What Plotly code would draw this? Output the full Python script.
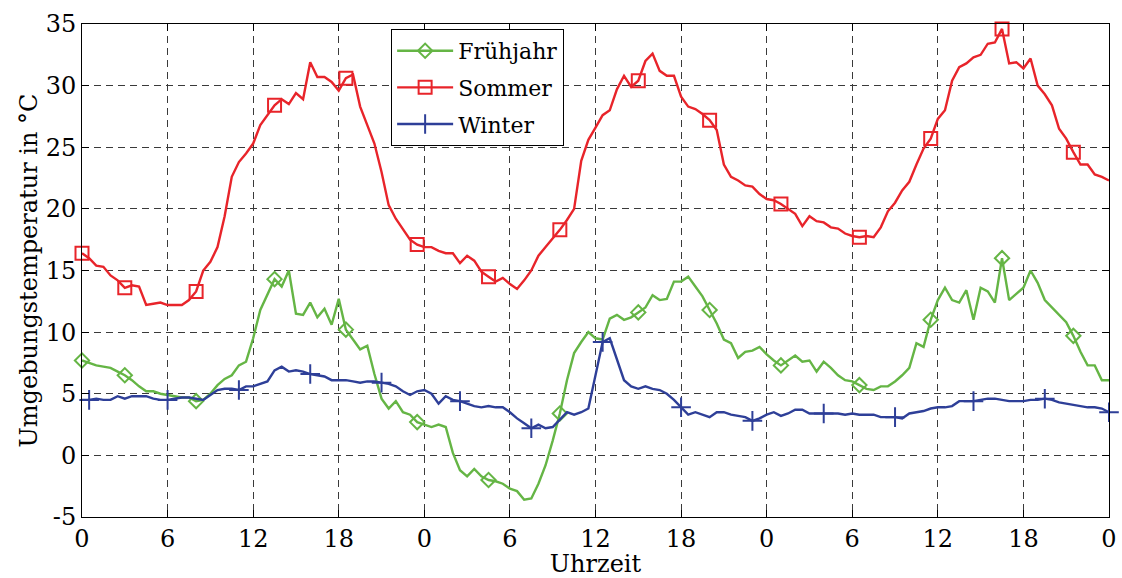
import numpy as np
import plotly.graph_objects as go

# Zeitachse: 3 Tage in Halbstundenschritten
stunden = np.arange(0, 72.5, 0.5)

fruehjahr = [
    7.7, 7.5, 7.3, 7.2, 7.1, 6.8, 6.5, 6.1, 5.6, 5.2, 5.2, 5.0,
    4.9, 4.8, 4.7, 4.7, 4.4, 4.5, 5.0, 5.7, 6.2, 6.5, 7.3, 7.6,
    9.5, 11.8, 13.1, 14.3, 13.7, 15.0, 11.5, 11.4, 12.4, 11.2, 11.9, 10.6,
    12.7, 10.2, 9.4, 8.6, 8.9, 6.6, 4.6, 3.8, 4.4, 3.5, 3.3, 2.7,
    2.5, 2.3, 2.5, 2.3, 0.2, -1.2, -1.7, -1.1, -1.7, -2.0, -2.1, -2.3,
    -2.7, -2.9, -3.6, -3.5, -2.3, -0.8, 1.2, 3.4, 6.1, 8.3, 9.2, 10.0,
    9.5, 9.4, 11.1, 11.4, 11.0, 11.2, 11.6, 12.0, 13.0, 12.6, 12.7, 14.1,
    14.1, 14.5, 13.7, 12.9, 11.8, 10.7, 9.4, 9.1, 7.9, 8.4, 8.5, 8.8,
    8.2, 7.7, 7.3, 7.7, 8.1, 7.6, 7.7, 6.8, 7.6, 7.1, 6.5, 6.1,
    6.0, 5.7, 5.4, 5.3, 5.6, 5.6, 6.0, 6.5, 7.1, 9.1, 8.8, 11.0,
    12.6, 13.6, 12.6, 12.4, 13.4, 11.0, 13.6, 13.3, 12.4, 16.0, 12.6, 13.1,
    13.6, 15.0, 14.0, 12.6, 12.0, 11.4, 10.8, 9.7, 8.4, 7.3, 7.3, 6.1,
    6.1,
]

sommer = [
    16.4, 16.0, 15.4, 15.3, 14.6, 14.2, 13.6, 13.8, 13.7, 12.2, 12.3, 12.4,
    12.2, 12.2, 12.2, 12.6, 13.3, 15.0, 15.7, 16.9, 19.4, 22.6, 23.8, 24.5,
    25.3, 26.8, 27.6, 28.4, 28.9, 28.5, 29.4, 28.9, 31.9, 30.7, 30.7, 30.3,
    29.6, 30.6, 30.9, 28.3, 26.8, 25.3, 23.0, 20.3, 19.2, 18.4, 17.5, 17.1,
    16.9, 16.9, 16.6, 16.4, 16.4, 15.6, 16.2, 15.8, 14.9, 14.5, 14.1, 14.4,
    13.9, 13.5, 14.2, 15.0, 16.2, 16.9, 17.6, 18.3, 19.1, 20.0, 23.9, 25.6,
    26.6, 27.6, 28.0, 29.7, 30.8, 29.9, 30.4, 32.0, 32.6, 31.2, 30.8, 30.8,
    29.1, 28.3, 28.1, 27.7, 27.2, 26.4, 23.6, 22.6, 22.3, 21.9, 21.8, 21.2,
    20.8, 20.7, 20.4, 20.0, 19.6, 18.6, 19.4, 19.0, 18.9, 18.5, 18.4, 18.0,
    17.8, 17.7, 17.8, 17.7, 18.5, 19.8, 20.5, 21.5, 22.2, 23.6, 24.9, 25.7,
    27.3, 28.0, 30.4, 31.5, 31.8, 32.3, 32.5, 33.4, 33.5, 34.6, 31.8, 31.9,
    31.4, 32.2, 30.0, 29.3, 28.4, 26.5, 25.7, 24.6, 23.6, 23.6, 22.8, 22.6,
    22.3,
]

winter = [
    4.5, 4.5, 4.6, 4.5, 4.5, 4.8, 4.6, 4.8, 4.8, 4.8, 4.6, 4.5,
    4.5, 4.6, 4.7, 4.7, 4.6, 4.5, 4.9, 5.3, 5.4, 5.4, 5.3, 5.6,
    5.6, 5.8, 6.0, 6.9, 7.2, 6.8, 6.9, 6.8, 6.6, 6.5, 6.4, 6.1,
    6.1, 6.1, 6.0, 5.9, 6.0, 6.0, 5.9, 5.8, 5.6, 5.2, 4.9, 5.2,
    5.3, 5.0, 4.2, 4.8, 4.5, 4.4, 4.2, 4.0, 3.9, 4.0, 3.9, 3.9,
    3.5, 3.0, 2.6, 2.2, 2.5, 2.2, 2.3, 2.9, 3.5, 3.3, 3.5, 3.8,
    6.6, 9.2, 9.5, 7.7, 6.1, 5.6, 5.4, 5.6, 5.4, 5.3, 5.0, 4.5,
    3.9, 3.3, 3.5, 3.3, 3.1, 3.5, 3.5, 3.3, 3.2, 3.1, 2.8, 3.0,
    3.3, 3.5, 3.2, 3.4, 3.7, 3.7, 3.4, 3.4, 3.4, 3.4, 3.4, 3.3,
    3.4, 3.3, 3.3, 3.3, 3.1, 3.1, 3.1, 3.0, 3.4, 3.5, 3.6, 3.8,
    3.9, 3.9, 4.0, 4.4, 4.4, 4.4, 4.5, 4.6, 4.6, 4.5, 4.4, 4.4,
    4.4, 4.5, 4.5, 4.6, 4.5, 4.3, 4.2, 4.1, 4.0, 3.9, 3.9, 3.8,
    3.5,
]

# Stunden, an denen Markierungen gesetzt werden
marker_fs = [0, 3, 8, 13.5, 18.5, 23.5, 28.5, 33.5, 39, 44, 49, 54.5, 59.5, 64.5, 69.5]
marker_w = [0.5, 6, 11, 16, 21, 26.5, 31.5, 36.5, 42, 47, 52, 57, 62.5, 67.5, 72]

x_tickvals = list(range(0, 73, 6))
x_ticktext = ["0", "6", "12", "18"] * 3 + ["0"]
y_tickvals = list(range(-5, 36, 5))
y_ticktext = [str(v) for v in y_tickvals]

FONT = "DejaVu Serif"

serien = [
    ("Frühjahr", fruehjahr, marker_fs, "#65b545", "diamond-open", 11),
    ("Sommer", sommer, marker_fs, "#e8242a", "square-open", 13),
    ("Winter", winter, marker_w, "#2e3f98", "cross-thin-open", 14),
]

fig = go.Figure()
for name, werte, mstunden, farbe, symbol, groesse in serien:
    werte = np.asarray(werte)
    idx = [int(round(h * 2)) for h in mstunden]
    fig.add_trace(go.Scatter(
        x=stunden, y=werte, mode="lines", showlegend=False,
        line=dict(color=farbe, width=2.4), hoverinfo="skip",
    ))
    fig.add_trace(go.Scatter(
        x=stunden[idx], y=werte[idx], mode="markers", showlegend=False,
        cliponaxis=False,
        marker=dict(symbol=symbol, size=groesse, color=farbe,
                    line=dict(width=2, color=farbe)),
    ))
    # Legendeneintrag mit Linie und Markierung
    fig.add_trace(go.Scatter(
        x=[None], y=[None], mode="lines+markers", name=name, legendgroup=name,
        line=dict(color=farbe, width=2.4),
        marker=dict(symbol=symbol, size=groesse, color=farbe,
                    line=dict(width=2, color=farbe)),
    ))

achse = dict(
    showline=True, linecolor="black", linewidth=1, mirror="ticks",
    ticks="inside", ticklen=7, tickcolor="black", tickwidth=1,
    showgrid=True, gridcolor="#3a3a3a", gridwidth=1, griddash="7px,5px",
    zeroline=False, automargin=False,
    tickfont=dict(family=FONT, size=24, color="black"),
)

fig.update_layout(
    width=1122, height=578,
    margin=dict(l=82, r=13, t=24, b=61),
    paper_bgcolor="white", plot_bgcolor="white",
    font=dict(family=FONT, size=24, color="black"),
    xaxis=dict(
        achse, range=[0, 72], tickmode="array",
        tickvals=x_tickvals, ticktext=x_ticktext,
        title=dict(text="Uhrzeit", standoff=5, font=dict(family=FONT, size=24)),
    ),
    yaxis=dict(
        achse, range=[-5, 35], tickmode="array",
        tickvals=y_tickvals, ticktext=y_ticktext,
        title=dict(text="Umgebungstemperatur in °C", standoff=1,
                   font=dict(family=FONT, size=24)),
    ),
    legend=dict(
        x=0.301, y=0.99, xanchor="left", yanchor="top",
        bgcolor="white", bordercolor="black", borderwidth=1,
        font=dict(family=FONT, size=22, color="black"),
        itemwidth=56, traceorder="grouped", tracegroupgap=5,
    ),
)

fig.write_html("out.html")
